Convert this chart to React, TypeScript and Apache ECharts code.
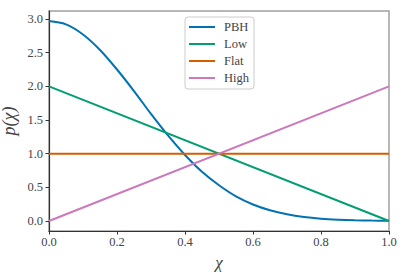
import React, { useEffect, useRef } from "react";
import * as echarts from "echarts";

// χ sample points and values
const CHI = [0, 0.05, 0.1, 0.15, 0.2, 0.25, 0.3, 0.35, 0.4, 0.45, 0.5, 0.55, 0.6, 0.65, 0.7, 0.75, 0.8, 0.85, 0.9, 0.95, 1.0];
const PBH = [2.97, 2.92, 2.77, 2.54, 2.25, 1.93, 1.59, 1.27, 0.98, 0.73, 0.53, 0.365, 0.245, 0.159, 0.1, 0.06, 0.035, 0.02, 0.011, 0.006, 0.003];
const LOW_X = [0, 1];
const LOW = [2, 0];
const FLAT_X = [0, 1];
const FLAT = [1, 1];
const HIGH_X = [0, 1];
const HIGH = [0, 2];
const X_TICKS = [0, 0.2, 0.4, 0.6, 0.8, 1.0];
const Y_TICKS = [0, 0.5, 1.0, 1.5, 2.0, 2.5, 3.0];

const SERIES_NAMES = ["PBH", "Low", "Flat", "High"];
const COLORS = ["#0173b2", "#029e73", "#d55e00", "#cc78bc"];

const FONT = "'Liberation Serif', 'DejaVu Serif', serif";
const TEXT = "#444444";

function pairs(xs: number[], ys: number[]) {
  return xs.map((x, i) => [x, ys[i]]);
}

export default function App() {
  const ref = useRef<HTMLDivElement>(null);
  useEffect(() => {
    if (!ref.current) return;
    const chart = echarts.init(ref.current, undefined, { renderer: "svg" });
    const datasets = [pairs(CHI, PBH), pairs(LOW_X, LOW), pairs(FLAT_X, FLAT), pairs(HIGH_X, HIGH)];
    chart.setOption({
      animation: false,
      backgroundColor: "#ffffff",
      textStyle: { fontFamily: FONT },
      grid: [
        { left: 49, right: 15, top: 19, bottom: 54, containLabel: false, outerBoundsMode: "none" },
        {
          left: 49, right: 15, top: 11, bottom: 44, containLabel: false, outerBoundsMode: "none",
          show: true, borderColor: "#a0a0a0", borderWidth: 1.5, backgroundColor: "transparent",
        },
      ],
      legend: {
        data: SERIES_NAMES,
        orient: "vertical",
        left: 185,
        top: 17,
        padding: [3, 5, 4, 4],
        itemGap: 3,
        itemWidth: 26,
        itemHeight: 2,
        icon: "rect",
        backgroundColor: "rgba(255,255,255,0.85)",
        borderColor: "#cccccc",
        borderWidth: 1,
        borderRadius: 3,
        textStyle: {
          fontFamily: FONT,
          fontSize: 12.5,
          color: TEXT,
          lineHeight: 14,
          height: 14,
          padding: [0, 0, 0, 4],
        },
      },
      xAxis: [
        {
          type: "value",
          gridIndex: 0,
          min: 0,
          max: 1,
          show: false,
        },
        {
          type: "value",
          gridIndex: 1,
          min: X_TICKS[0],
          max: X_TICKS[X_TICKS.length - 1],
          interval: 0.2,
          position: "bottom",
          axisLine: { show: true, lineStyle: { color: "#333333", width: 1.2 } },
          axisTick: { show: true, length: 3.5, lineStyle: { color: "#333333", width: 1 } },
          axisLabel: {
            show: true,
            color: TEXT,
            fontFamily: FONT,
            fontSize: 12.5,
            margin: 4,
            formatter: (v: number) => v.toFixed(1),
          },
          splitLine: { show: false },
          name: "χ",
          nameLocation: "middle",
          nameGap: 23,
          nameTextStyle: { fontFamily: FONT, fontStyle: "italic", fontSize: 17, color: TEXT },
        },
      ],
      yAxis: [
        {
          type: "value",
          gridIndex: 0,
          min: Y_TICKS[0],
          max: Y_TICKS[Y_TICKS.length - 1],
          interval: 0.5,
          axisLine: { show: false },
          axisTick: { show: true, length: 3.5, lineStyle: { color: "#333333", width: 1 } },
          axisLabel: {
            show: true,
            color: TEXT,
            fontFamily: FONT,
            fontSize: 12.5,
            margin: 6,
            formatter: (v: number) => v.toFixed(1),
          },
          splitLine: { show: false },
        },
        {
          type: "value",
          gridIndex: 1,
          min: 0,
          max: 1,
          position: "left",
          axisLine: { show: true, lineStyle: { color: "#333333", width: 1.2 } },
          axisTick: { show: false },
          axisLabel: { show: false },
          splitLine: { show: false },
          name: "p(χ)",
          nameLocation: "middle",
          nameGap: 31,
          nameRotate: 90,
          nameTextStyle: { fontFamily: FONT, fontStyle: "italic", fontSize: 18, color: TEXT },
        },
      ],
      series: SERIES_NAMES.map((name, i) => ({
        name,
        type: "line",
        xAxisIndex: 0,
        yAxisIndex: 0,
        data: datasets[i],
        smooth: i === 0 ? 0.35 : false,
        symbol: "none",
        showSymbol: false,
        clip: false,
        color: COLORS[i],
        lineStyle: { color: COLORS[i], width: 2 },
        z: 3,
      })),
    });
    return () => chart.dispose();
  }, []);
  return (
    <div
      ref={ref}
      style={{ width: 404, height: 275, position: "absolute", left: 0, top: 0 }}
    />
  );
}
